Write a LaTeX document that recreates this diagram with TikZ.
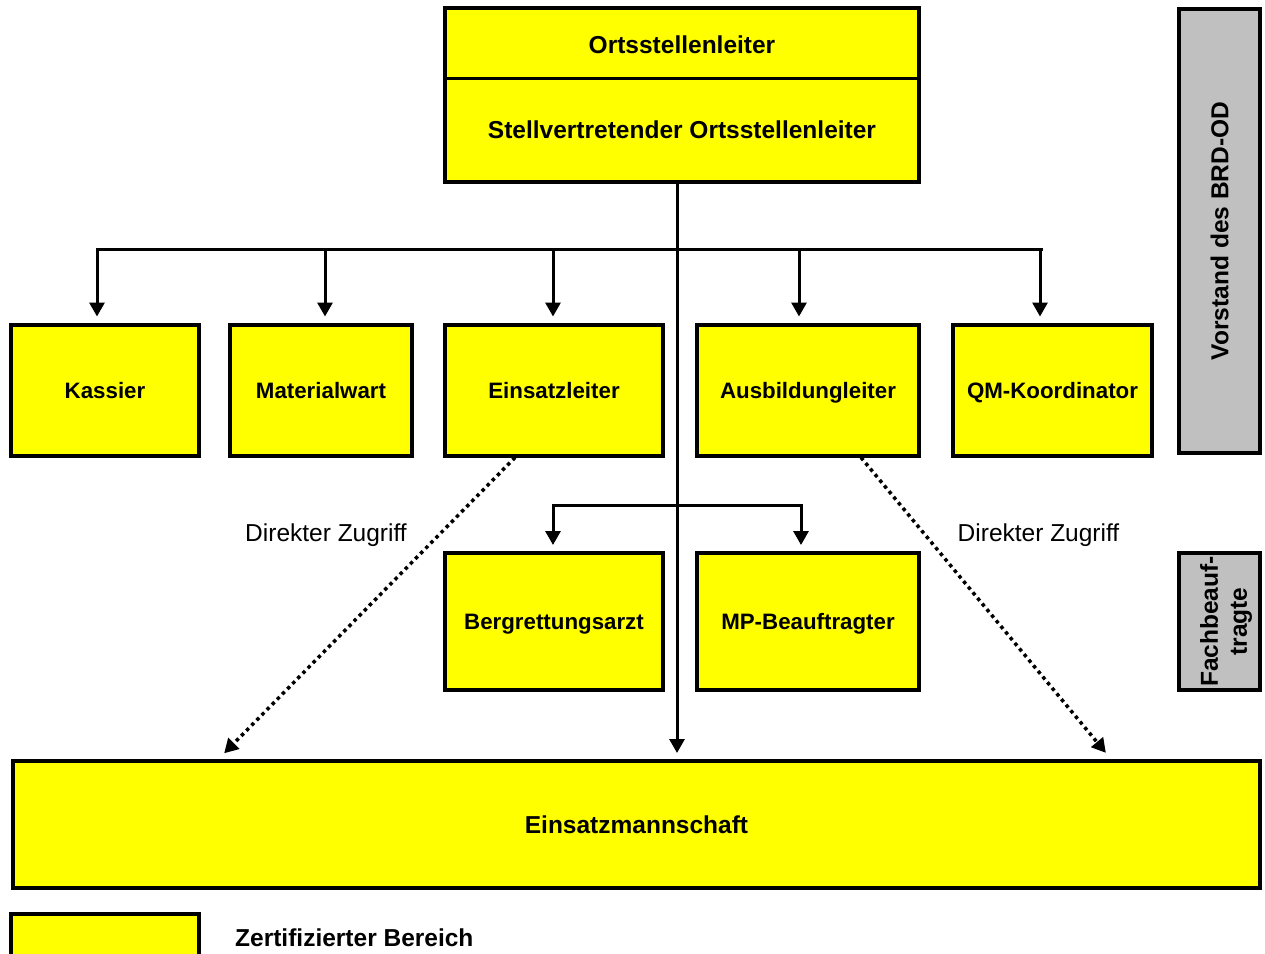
\documentclass[tikz,border=0pt]{standalone}
\usepackage{fontspec}
\setmainfont{Liberation Sans}
\usepackage{tikz}
\usetikzlibrary{arrows.meta}
\usepackage{xcolor}
\definecolor{gelb}{HTML}{FFFF00}
\definecolor{grau}{HTML}{C0C0C0}
\newcommand{\fgross}{\fontsize{24.5pt}{29pt}\selectfont}
\newcommand{\fklein}{\fontsize{22.3pt}{27pt}\selectfont}
\tikzset{
  box/.style={draw, line width=4pt, fill=gelb, inner sep=0pt,
    font=\bfseries\fgross, text height=17.5pt, text depth=0pt},
  kbox/.style={box, font=\bfseries\fklein, text height=16pt},
  graubox/.style={box, fill=grau},
  lbl/.style={inner sep=0pt, font=\fgross, text height=17.5pt, text depth=0pt},
  conn/.style={line width=3pt},
  arr/.style={conn, -{Triangle[width=15pt,length=14pt]}, shorten >=6pt},
  dots/.style={arr, line width=3.5pt, dash pattern=on 3.5pt off 3.8pt, shorten >=8pt}
}

\begin{document}
\begin{tikzpicture}[x=1pt, y=-1pt]
\useasboundingbox (0,0) rectangle (1265,953);
% leitung
\node[box, minimum width=474pt, minimum height=174pt] (OSL) at (682,95) {};
\node[lbl, font=\bfseries\fgross, anchor=base] (OSLt) at (682,53) {Ortsstellenleiter};
\node[lbl, font=\bfseries\fgross, anchor=base] (STV) at (682,138) {Stellvertretender Ortsstellenleiter};
\coordinate (div) at (682,78.5);
\draw[line width=2.5pt] (OSL.west |- div) -- (OSL.east |- div);

% vorstand
\node[kbox, minimum width=188pt, minimum height=131pt] (K) at (105,390) {Kassier};
\node[kbox, minimum width=182pt, minimum height=131pt] (MW) at (321,390) {Materialwart};
\node[kbox, minimum width=218pt, minimum height=131pt] (EL) at (554,390) {Einsatzleiter};
\node[kbox, minimum width=222pt, minimum height=131pt] (AL) at (808,390) {Ausbildungleiter};
\node[kbox, minimum width=199pt, minimum height=131pt] (QM) at (1052.5,390) {QM-Koordinator};
\node[graubox, rotate=90, minimum width=444pt, minimum height=81pt] (VS) at (1219.5,231) {Vorstand des BRD-OD};

% fachbeauftragte
\node[kbox, minimum width=218pt, minimum height=137pt] (BA) at (554,621.5) {Bergrettungsarzt};
\node[kbox, minimum width=222pt, minimum height=137pt] (MP) at (808,621.5) {MP-Beauftragter};
\node[graubox, minimum width=81pt, minimum height=137pt] (FB) at (1219.5,621.5) {};
\node[lbl, font=\bfseries\fgross, rotate=90, align=center, text height={}, text depth={}] (FBt) at (1226,621.5) {Fachbeauf-\\tragte};

% mannschaft
\node[box, minimum width=1247pt, minimum height=127pt] (EM) at (636.5,824.5) {Einsatzmannschaft};
\node[box, minimum width=188pt, minimum height=60pt] (LG) at (105,943.5) {};
\node[lbl, font=\bfseries\fgross, anchor=base west] (LGt) at (235,946) {Zertifizierter Bereich};

% verbindungen
\coordinate (trunk) at ([xshift=-5pt]OSL.south);
\coordinate (bus) at (677,249);
\coordinate (bus2) at (677,505.5);
\draw[conn] (bus) -- (bus -| 1043,0);
\foreach \n/\s in {K/-8,MW/4,EL/-1,AL/-9,QM/-12.5}
  \draw[arr] (bus) -| ([xshift=\s pt]\n.north);
\draw[arr] (bus2) -| ([xshift=-1pt]BA.north);
\draw[arr] (bus2) -| ([xshift=-7pt]MP.north);
\draw[arr] (trunk) -- (trunk |- EM.north);

\draw[dots] ([xshift=-39pt]EL.south) -- ([xshift=-418pt]EM.north);
\draw[dots] ([xshift=53pt]AL.south) -- ([xshift=474.5pt]EM.north);
\node[lbl] (DZ1) at (326,533) {Direkter Zugriff};
\node[lbl] (DZ2) at (1038.5,533) {Direkter Zugriff};
\end{tikzpicture}
\end{document}
